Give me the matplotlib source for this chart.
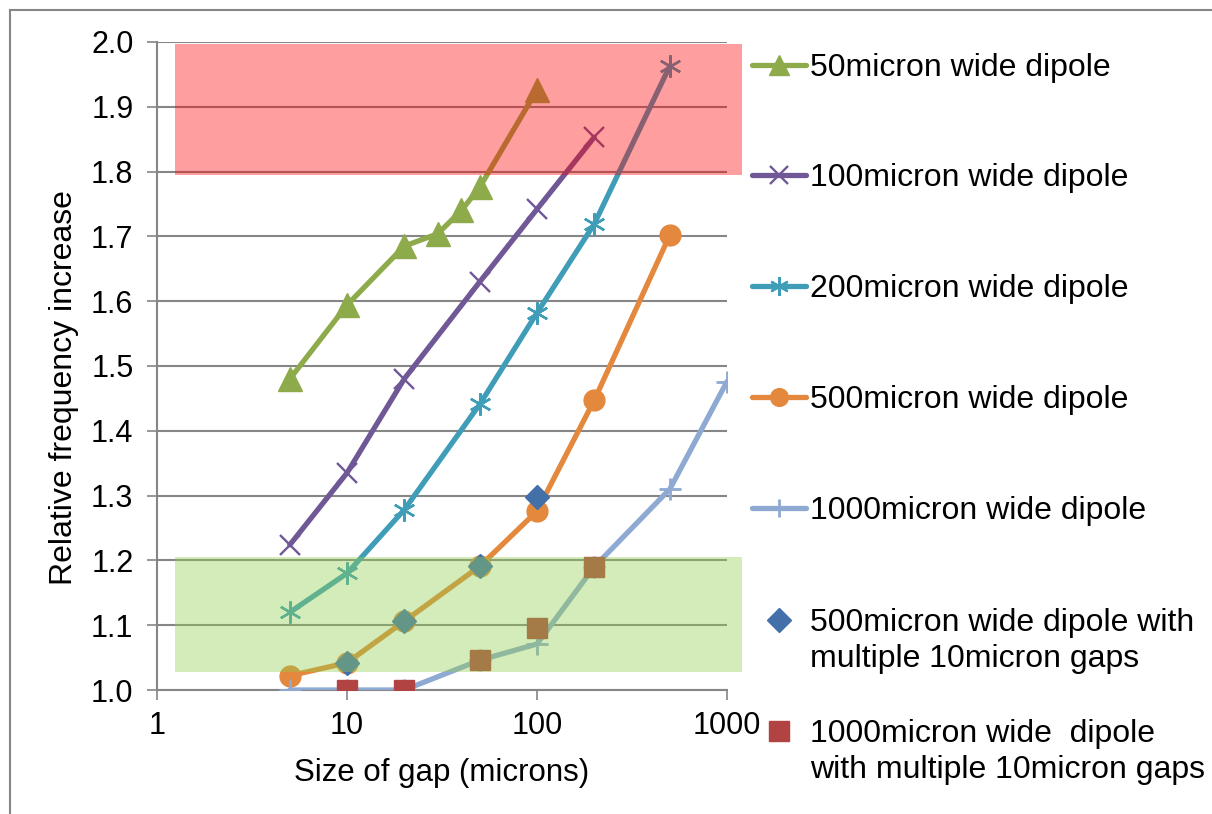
import matplotlib
matplotlib.use("Agg")
import matplotlib.pyplot as plt
from matplotlib.lines import Line2D
from matplotlib.patches import Rectangle

plt.rcParams['font.family'] = ['Liberation Sans', 'DejaVu Sans']

# ---- data ----
x50 = [5, 10, 20, 30, 40, 50, 100]
y50 = [1.48, 1.594, 1.685, 1.704, 1.74, 1.776, 1.926]
x100 = [5, 10, 20, 50, 100, 200]
y100 = [1.224, 1.335, 1.48, 1.63, 1.742, 1.853]
x200 = [5, 10, 20, 50, 100, 200, 500]
y200 = [1.12, 1.18, 1.278, 1.441, 1.582, 1.719, 1.963]
x500 = [5, 10, 20, 50, 100, 200, 500]
y500 = [1.022, 1.042, 1.106, 1.191, 1.276, 1.447, 1.702]
x1000 = [5, 10, 20, 50, 100, 200, 500, 1000]
y1000 = [1.0, 1.0, 1.0, 1.046, 1.071, 1.19, 1.31, 1.476]
x500m = [10, 20, 50, 100]
y500m = [1.042, 1.106, 1.191, 1.298]
x1000m = [10, 20, 50, 100, 200]
y1000m = [1.0, 1.0, 1.046, 1.095, 1.19]

labels = ["50micron wide dipole", "100micron wide dipole", "200micron wide dipole",
          "500micron wide dipole", "1000micron wide dipole",
          "500micron wide dipole with\nmultiple 10micron gaps",
          "1000micron wide  dipole\nwith multiple 10micron gaps"]
xticks = [1, 10, 100, 1000]
xticklabels = ["1", "10", "100", "1000"]
yticks = [1.0, 1.1, 1.2, 1.3, 1.4, 1.5, 1.6, 1.7, 1.8, 1.9, 2.0]
# shaded bands (y ranges)
red_band = (1.795, 1.997)
green_band = (1.028, 1.205)
band_x = (1.24, 1200)

W, H = 1212, 814
fig = plt.figure(figsize=(W / 100, H / 100), dpi=100)
ax = fig.add_axes([157 / W, 1 - 690 / H, (727 - 157) / W, (690 - 42) / H])

GRAY = '#868686'
LW = 3.8
styles = [
    dict(color='#8EAB4C', marker='^', ms=17, mec='#8EAB4C'),
    dict(color='#705896', marker='x', ms=15, mew=1.7),
    dict(color='#3F9DB8', marker=(6, 2, 0), ms=16, mew=1.7),
    dict(color='#E3883C', marker='o', ms=15),
    dict(color='#8EA9D2', marker='+', ms=16, mew=2.0),
]
series = [(x50, y50), (x100, y100), (x200, y200), (x500, y500), (x1000, y1000)]
for i, ((xs, ys), st) in enumerate(zip(series, styles)):
    ax.plot(xs, ys, lw=LW, zorder=3 + i * 0.1, solid_capstyle='round', **st)

ax.plot(x500m, y500m, ls='none', marker='D', ms=12, color='#4470AA', zorder=4)
ax.plot(x1000m, y1000m, ls='none', marker='s', ms=15, color='#B14442', zorder=4)

# shaded bands on top
ax.add_patch(Rectangle((band_x[0], red_band[0]), band_x[1] - band_x[0], red_band[1] - red_band[0],
                       facecolor='#ff0000', alpha=0.38, lw=0, zorder=10, clip_on=False))
ax.add_patch(Rectangle((band_x[0], green_band[0]), band_x[1] - band_x[0], green_band[1] - green_band[0],
                       facecolor='#92D050', alpha=0.40, lw=0, zorder=10, clip_on=False))

ax.set_xscale('log')
ax.set_xlim(1, 1000)
ax.set_ylim(1.0, 2.0)
ax.set_xticks(xticks)
ax.set_xticklabels(xticklabels)
ax.xaxis.set_minor_locator(matplotlib.ticker.NullLocator())
ax.set_yticks(yticks)
ax.set_yticklabels([f"{v:.1f}" for v in yticks])
ax.yaxis.grid(True, color=GRAY, lw=1.5, zorder=0)
ax.set_axisbelow(True)
for s in ['top', 'right']:
    ax.spines[s].set_visible(False)
for s in ['left', 'bottom']:
    ax.spines[s].set_color(GRAY)
    ax.spines[s].set_linewidth(1.5)
ax.tick_params(axis='both', colors=GRAY, labelcolor='black', labelsize=22, width=1.2, length=7)
ax.tick_params(axis='y', pad=10)
ax.tick_params(axis='x', pad=8)
ax.set_xlabel("Size of gap (microns)", fontsize=22.5, labelpad=12)
ax.set_ylabel("Relative frequency increase", fontsize=23)
ax.yaxis.set_label_coords(-0.136, 0.466)

# outer chart border (left and top)
fig.add_artist(Line2D([10 / W, 10 / W], [0, 1 - 10 / H], color=GRAY, lw=1.5))
fig.add_artist(Line2D([10 / W, 1], [1 - 10 / H, 1 - 10 / H], color=GRAY, lw=1.5))

# manual legend
leg_y = [65, 175, 286, 397, 508, 620, 731]
for i, (lab, yy) in enumerate(zip(labels, leg_y)):
    yf = 1 - yy / H
    if i < 5:
        st = styles[i]
        fig.add_artist(Line2D([752 / W, 806 / W], [yf, yf], lw=LW, color=st['color'],
                              solid_capstyle='round'))
        fig.add_artist(Line2D([779 / W], [yf], ls='none', marker=st['marker'],
                              ms=st['ms'] * 0.85, color=st['color'], mew=st.get('mew', 1)))
    elif i == 5:
        fig.add_artist(Line2D([779 / W], [yf], ls='none', marker='D', ms=12, color='#4470AA'))
    else:
        fig.add_artist(Line2D([779 / W], [yf], ls='none', marker='s', ms=15, color='#B14442'))
    fig.text(810 / W, yf + 12 / H, lab, fontsize=23, va='top', ha='left', linespacing=1.27)

fig.savefig("out.png", dpi=100)
